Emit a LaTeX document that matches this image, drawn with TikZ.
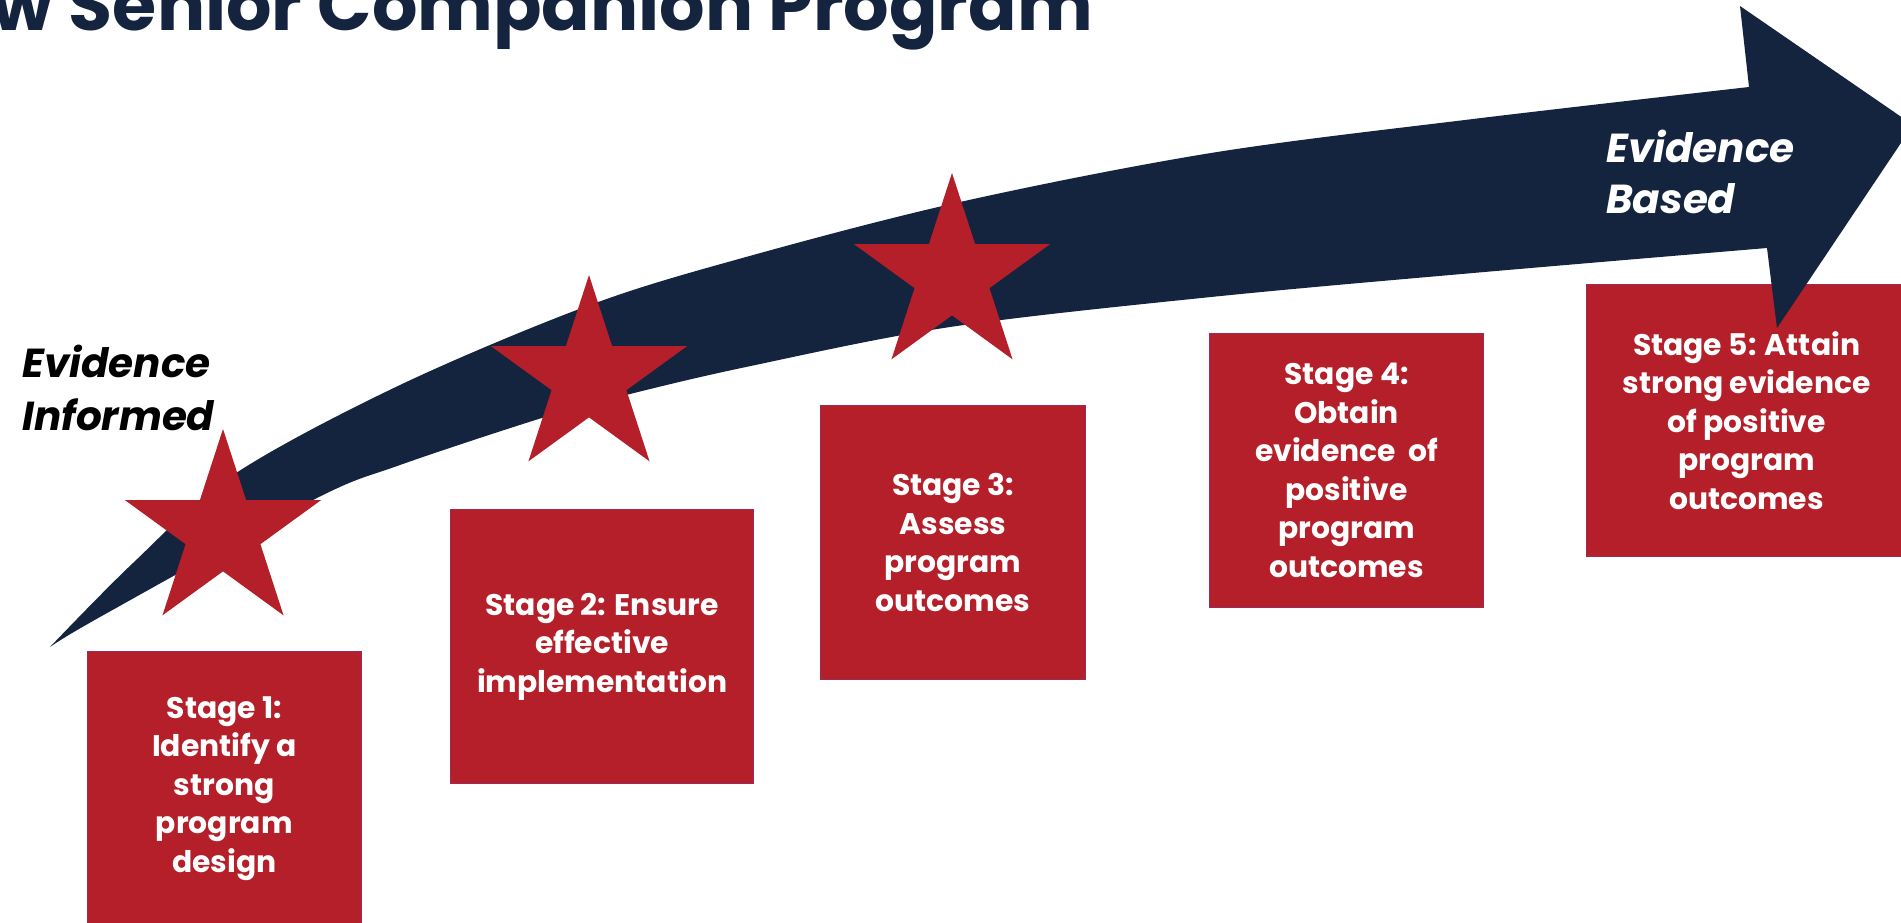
\documentclass[tikz,border=0pt]{standalone}
\usepackage{fontspec}
\setmainfont{Poppins}
\usetikzlibrary{shapes.geometric}
\definecolor{navy}{RGB}{20,36,63}
\definecolor{boxred}{RGB}{180,31,41}
\definecolor{boxedge}{RGB}{158,42,88}
\begin{document}
\begin{tikzpicture}[x=1pt,y=-1pt,
  stagebox/.style={draw=boxedge, line width=1.2pt, fill=boxred, text=white,
    font=\bfseries\fontsize{29.8}{38.5}\selectfont, align=center, inner sep=0pt,
    anchor=north west, minimum height=274pt},
  redstar/.style={star, star points=5, star point ratio=2.618, minimum size=206pt,
    inner sep=0pt, fill=boxred},
  evtext/.style={font=\bfseries\itshape\fontsize{40.5}{52}\selectfont, anchor=base west, inner sep=0pt}]
\useasboundingbox (0,0) rectangle (1901,922);
\fill[white] (0,0) rectangle (1901,922);
% title
\node[anchor=base east, text=navy, font=\bfseries\fontsize{71.5}{75}\selectfont, inner sep=0pt] (title) at (1093,30) {w Senior Companion Program};
% stage boxes
\node[stagebox, minimum width=274pt] (s1) at (86.7,651) {Stage 1:\\Identify a\\strong\\program\\design};
\node[stagebox, minimum width=303pt] (s2) at (450,509) {Stage 2: Ensure\\effective\\implementation};
\node[stagebox, minimum width=265pt] (s3) at (820,405) {Stage 3:\\Assess\\program\\outcomes};
\node[stagebox, minimum width=274pt] (s4) at (1209,333) {Stage 4:\\Obtain\\evidence\ \ of\\positive\\program\\outcomes};
\node[stagebox, minimum width=320pt, minimum height=272pt] (s5) at (1586,284) {Stage 5: Attain\\strong evidence\\of positive\\program\\outcomes};
% big arrow
\fill[navy] plot[smooth, tension=0.55] coordinates {(50,647) (133,563) (233,475) (400,385) (590,305) (746,257) (960,202) (1211,153) (1473,119) (1749,87)}
  -- (1740,6) -- (1913,125) -- (1777,328) -- (1767,248)
  -- plot[smooth, tension=0.55] coordinates {(1767,248) (1473,273) (1211,297) (950,327) (746,367) (626,395) (545,417) (400,465) (313,500) (100,617) (50,647)}
  -- cycle;
% stars
\node[redstar] (st1) at (223,532) {};
\node[redstar] (st2) at (589,378) {};
\node[redstar] (st3) at (952,276) {};
% labels
\node[evtext, text=black] (ei1) at (22,377) {Evidence};
\node[evtext, text=black] (ei2) at (22,430) {Informed};
\node[evtext, text=white] (eb1) at (1606,162) {Evidence};
\node[evtext, text=white] (eb2) at (1606,213) {Based};
\end{tikzpicture}
\end{document}
